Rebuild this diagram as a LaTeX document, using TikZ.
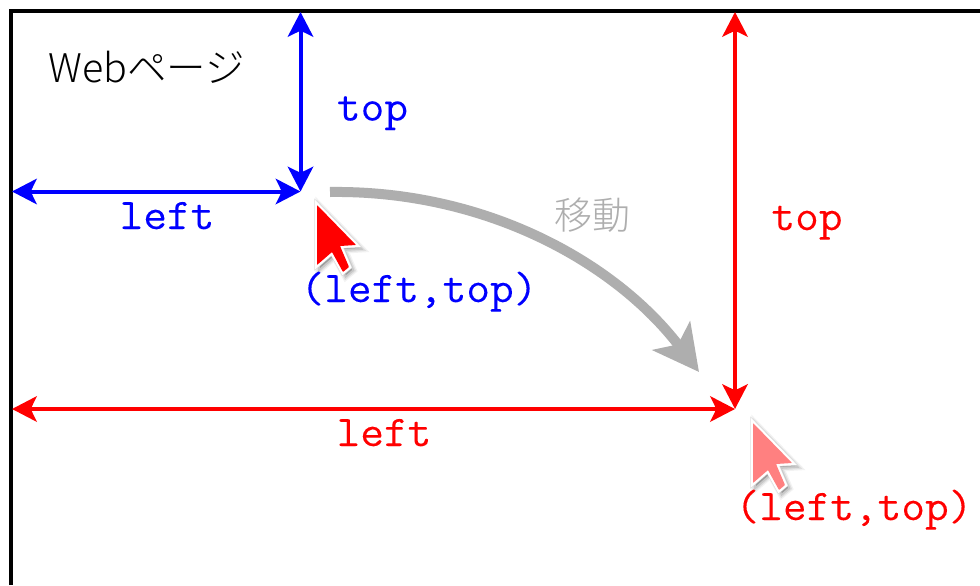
\documentclass[tikz,border=0pt]{standalone}
\usepackage{fontspec}
\setmainfont{Noto Sans CJK JP Light}
\setmonofont[FakeBold=0.05,FakeStretch=1.05]{Latin Modern Mono}
\usetikzlibrary{arrows.meta}
\definecolor{arcgray}{HTML}{AEAEAE}
\definecolor{palered}{HTML}{FF8080}
\tikzset{
  x=0.75pt,y=-0.75pt,
  pagebox/.style={draw=black,line width=3pt,line join=miter},
  dim/.style={line width=3pt,{Stealth[length=18.5pt,width=19pt,inset=4.5pt]}-{Stealth[length=18.5pt,width=19pt,inset=4.5pt]}},
  moved/.style={draw=arcgray,line width=7.5pt,-{Stealth[length=34pt,width=35pt,inset=8pt]}},
  monolabel/.style={inner sep=0,anchor=base,font=\ttfamily\fontsize{32.85pt}{34pt}\selectfont},
  cjklabel/.style={inner sep=0,anchor=base,font=\fontsize{#1}{32pt}\selectfont},
  pics/arrowcursor/.style={code={
    \foreach \w/\o in {7pt/0.05,5pt/0.08,3pt/0.1}{
      \draw[black,opacity=\o,line width=\w,line join=miter,fill=black,shift={(3,3)}]
        (0,0)--(39,40)--(23,41)--(32,62)--(26,67)--(15,47)--(0,60)--cycle;
    }
    \draw[black!14,line width=4pt,line join=miter]
        (0,0)--(39,40)--(23,41)--(32,62)--(26,67)--(15,47)--(0,60)--cycle;
    \draw[white,fill=white,line width=3.2pt,line join=miter]
        (0,0)--(39,40)--(23,41)--(32,62)--(26,67)--(15,47)--(0,60)--cycle;
    \fill[#1,rounded corners=0.5pt]
        (0,0)--(39,40)--(23,41)--(32,62)--(26,67)--(15,47)--(0,60)--cycle;
  }}
}
\begin{document}
\begin{tikzpicture}
\useasboundingbox (0,0) rectangle (980,585);
\fill[white] (0,0) rectangle (980,585);
\coordinate (pgLeftBot) at (11,585);
\coordinate (pgCorner) at (11,11);
\coordinate (pgRightTop) at (980,11);
\coordinate (blueTop) at (300.5,12);
\coordinate (blueLeft) at (12,191.5);
\coordinate (bluePt) at (300.5,191.5);
\coordinate (redTop) at (735,12);
\coordinate (redLeft) at (12,409);
\coordinate (redPt) at (735,409);
\coordinate (arcStart) at (330,192);
\coordinate (arcEnd) at (699,372);
\draw[pagebox] (pgLeftBot) -- (pgCorner) -- (pgRightTop);
\draw[dim,blue] (blueTop) -- (bluePt);
\draw[dim,blue] (blueLeft) -- (bluePt);
\draw[dim,red] (redTop) -- (redPt);
\draw[dim,red] (redLeft) -- (redPt);
\draw[moved] (arcStart) .. controls (485,190) and (615,262) .. (arcEnd);
\pic at (317,205) {arrowcursor=red};
\pic at (753,423) {arrowcursor=palered};
\node[cjklabel=29.6pt,anchor=base west] (webpage) at (48,83) {Webページ};
\node[monolabel,blue] (topA) at (372.5,120.5) {top};
\node[monolabel,blue] (leftA) at (167,229) {left};
\node[monolabel,blue] (ptA) at (419,302) {(left,top)};
\node[monolabel,red] (topB) at (807,230) {top};
\node[monolabel,red] (leftB) at (384,446) {left};
\node[monolabel,red] (ptB) at (854,520) {(left,top)};
\node[cjklabel=28.5pt,arcgray] (moveLabel) at (592,229) {移動};
\end{tikzpicture}
\end{document}
